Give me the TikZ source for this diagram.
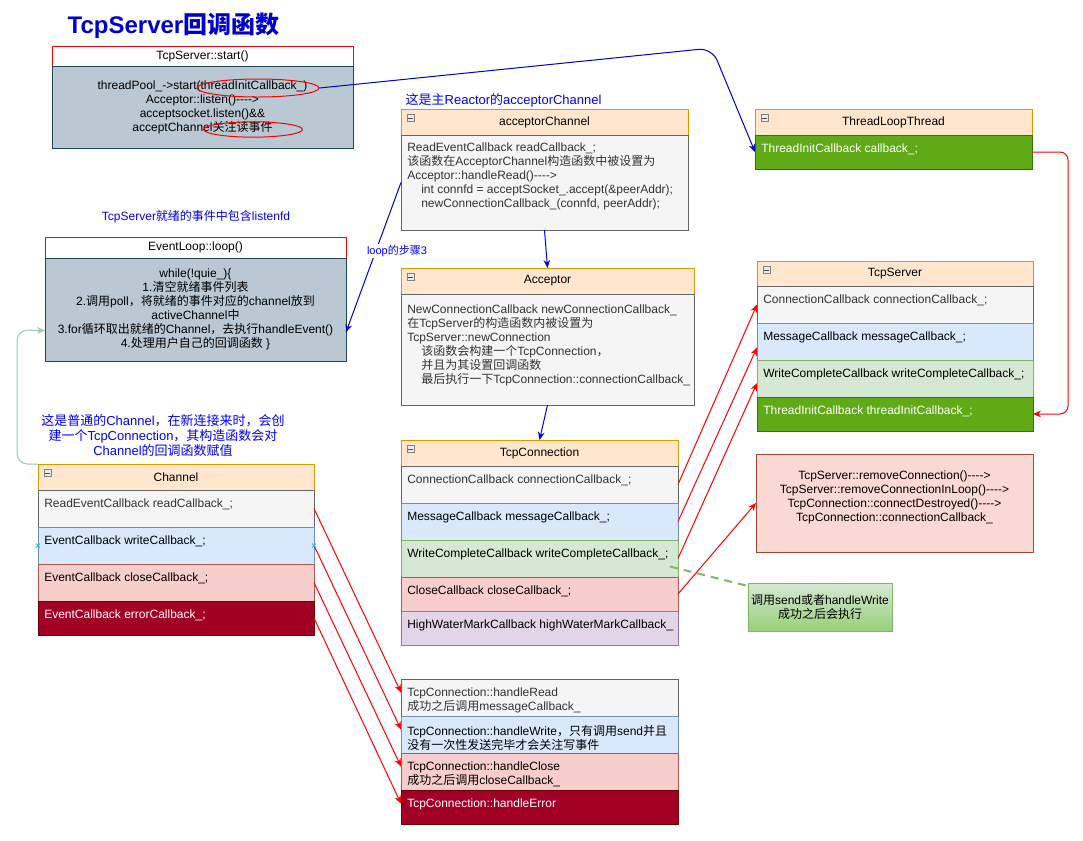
\documentclass[tikz,border=0pt]{standalone}
\usepackage{fontspec}
\usepackage{xcolor}
\usepackage{tikz}
\setmainfont{Liberation Sans}
\newfontfamily\latinfont{Liberation Sans}
\newfontfamily\cjkfont{Noto Sans CJK SC}
\usetikzlibrary{positioning,calc,arrows.meta,shapes.geometric}

% Han characters and full-width punctuation go to the CJK font
\XeTeXinterchartokenstate=1
\newXeTeXintercharclass\hanclass
\newcount\hancode
\hancode="3000
\loop\XeTeXcharclass\hancode=\hanclass
  \ifnum\hancode<"303F \advance\hancode by 1 \repeat
\hancode="4E00
\loop\XeTeXcharclass\hancode=\hanclass
  \ifnum\hancode<"9FFF \advance\hancode by 1 \repeat
\hancode="FF00
\loop\XeTeXcharclass\hancode=\hanclass
  \ifnum\hancode<"FFEF \advance\hancode by 1 \repeat
\XeTeXinterchartoks 0 \hanclass = {\cjkfont}
\XeTeXinterchartoks 4095 \hanclass = {\cjkfont}
\XeTeXinterchartoks \hanclass 0 = {\latinfont}
\XeTeXinterchartoks \hanclass 4095 = {\latinfont}

\newcommand{\arw}{-{}-{}-{}->}

\definecolor{hdrfill}{HTML}{FFE6CC}
\definecolor{hdrline}{HTML}{D79B00}
\definecolor{grayfill}{HTML}{F5F5F5}
\definecolor{grayline}{HTML}{666666}
\definecolor{graytext}{HTML}{333333}
\definecolor{bluefill}{HTML}{DAE8FC}
\definecolor{blueline}{HTML}{6C8EBF}
\definecolor{greenfill}{HTML}{D5E8D4}
\definecolor{greenline}{HTML}{82B366}
\definecolor{redfill}{HTML}{F8CECC}
\definecolor{redline}{HTML}{B85450}
\definecolor{purplefill}{HTML}{E1D5E7}
\definecolor{purpleline}{HTML}{9673A6}
\definecolor{dkgreenfill}{HTML}{60A917}
\definecolor{dkgreenline}{HTML}{2D7600}
\definecolor{dkredfill}{HTML}{A20025}
\definecolor{dkredline}{HTML}{6F0000}
\definecolor{slatefill}{HTML}{BAC8D3}
\definecolor{slateline}{HTML}{23445D}
\definecolor{rmfill}{HTML}{FAD9D5}
\definecolor{rmline}{HTML}{AE4132}
\definecolor{notebottom}{HTML}{97D077}
\definecolor{titleblue}{HTML}{0000CC}
\definecolor{lblblue}{HTML}{0000FF}
\definecolor{arrowblue}{HTML}{0000CC}
\definecolor{tealline}{HTML}{9AC7BF}
\definecolor{hoverx}{HTML}{29B6F2}

\tikzset{
  every node/.style={font=\fontsize{9}{10.5}\selectfont},
  box/.style={rectangle, draw, line width=0.75pt, inner sep=0pt, outer sep=0pt},
  hdr/.style={box, draw=hdrline, fill=hdrfill, minimum height=19.5pt},
  hdrred/.style={box, draw=red, fill=white, minimum height=15pt},
  slate/.style={box, draw=slateline, fill=slatefill, align=center},
  rowgray/.style={box, draw=grayline, fill=grayfill, minimum height=27.75pt},
  rowblue/.style={box, draw=blueline, fill=bluefill, minimum height=27.75pt},
  rowgreen/.style={box, draw=greenline, fill=greenfill, minimum height=27.75pt},
  rowred/.style={box, draw=redline, fill=redfill, minimum height=27.75pt},
  rowpurple/.style={box, draw=purpleline, fill=purplefill, minimum height=25.5pt},
  rowdkgreen/.style={box, draw=dkgreenline, fill=dkgreenfill, minimum height=25.5pt},
  rowdkred/.style={box, draw=dkredline, fill=dkredfill, minimum height=25.5pt},
  rowtext/.style={anchor=north west, align=left, inner sep=0pt, xshift=4.5pt, yshift=-6.6pt,
    minimum width=0pt, minimum height=0pt},
  fold/.style={rectangle, draw=gray, fill=gray!15, line width=0.4pt, inner sep=0pt, minimum size=5.25pt,
    path picture={\draw[line width=0.6pt, black!70] ([xshift=1.1pt]path picture bounding box.west)
      -- ([xshift=-1.1pt]path picture bounding box.east);}},
  lbl/.style={text=lblblue},
  ring/.style={ellipse, draw=red, line width=0.75pt, inner sep=0pt},
  bluearrow/.style={draw=arrowblue, line width=0.75pt, -{Stealth[length=6pt, width=5pt]}},
  redarrow/.style={draw=red, line width=0.75pt, -{Stealth[length=6pt, width=5pt]}},
  tealarrow/.style={draw=tealline, line width=0.75pt, -{Stealth[length=6pt, width=5pt]}},
  notedash/.style={draw=greenline, line width=1.5pt, dash pattern=on 6pt off 4.5pt},
  xmark/.style={draw=hoverx, line width=0.75pt}
}

\begin{document}
\begin{tikzpicture}[x=0.75pt, y=-0.75pt]
  \useasboundingbox (0,0) rectangle (1083,840);

  % Title
  \node[anchor=west, font=\fontsize{18}{20}\selectfont\bfseries, text=titleblue] (title) at (63,26) {TcpServer回调函数};

  % TcpServer::start()
  \begin{scope}[minimum width=225.75pt]
    \node[hdrred, anchor=north west] (sth) at (52,46) {TcpServer::start()};
    \node[slate, below=0pt of sth, minimum height=61.5pt] (stb) {threadPool\_->start(threadInitCallback\_)\\Acceptor::listen()\arw\\acceptsocket.listen()\&\&\\acceptChannel关注读事件};
  \end{scope}
  \node[ring, minimum width=91.5pt, minimum height=13.5pt] (e1) at (258,88) {};
  \node[ring, minimum width=74pt, minimum height=11.5pt] (e2) at (253,129.5) {};

  % ThreadLoopThread
  \begin{scope}[minimum width=207.75pt]
    \node[hdr, anchor=north west] (tlth) at (755,109) {ThreadLoopThread};
    \node[rowdkgreen, below=0pt of tlth] (tlt1) {};
    \node[rowtext, text=white] (tlt1t) at (tlt1.north west) {ThreadInitCallback callback\_;};
  \end{scope}

  % acceptorChannel
  \node[lbl, anchor=west, font=\fontsize{9.75}{11.25}\selectfont] (aclbl) at (401,100) {这是主Reactor的acceptorChannel};
  \begin{scope}[minimum width=215.25pt]
    \node[hdr, anchor=north west] (ach) at (401,109) {acceptorChannel};
    \node[rowgray, below=0pt of ach, minimum height=71.25pt] (acb) {};
    \node[rowtext, text=graytext, yshift=1pt] (acbt) at (acb.north west) {ReadEventCallback readCallback\_;\\该函数在AcceptorChannel构造函数中被设置为\\Acceptor::handleRead()\arw\\\hspace*{10.5pt}int connfd = acceptSocket\_.accept(\&peerAddr);\\\hspace*{10.5pt}newConnectionCallback\_(connfd, peerAddr);};
  \end{scope}

  % Acceptor
  \begin{scope}[minimum width=219.75pt]
    \node[hdr, anchor=north west] (acph) at (401,268) {Acceptor};
    \node[rowgray, below=0pt of acph, minimum height=83.25pt] (acpb) {};
    \node[rowtext, text=graytext, yshift=-1.5pt] (acpbt) at (acpb.north west) {NewConnectionCallback newConnectionCallback\_\\在TcpServer的构造函数内被设置为\\TcpServer::newConnection\\\hspace*{10.5pt}该函数会构建一个TcpConnection，\\\hspace*{10.5pt}并且为其设置回调函数\\\hspace*{10.5pt}最后执行一下TcpConnection::connectionCallback\_};
  \end{scope}

  % TcpServer
  \begin{scope}[minimum width=207pt]
    \node[hdr, anchor=north west, minimum height=18.75pt] (tsh) at (757,261) {TcpServer};
    \node[rowgray, below=0pt of tsh] (ts1) {};
    \node[rowblue, below=0pt of ts1] (ts2) {};
    \node[rowgreen, below=0pt of ts2] (ts3) {};
    \node[rowdkgreen, below=0pt of ts3] (ts4) {};
    \node[rowtext, text=graytext] (ts1t) at (ts1.north west) {ConnectionCallback connectionCallback\_;};
    \node[rowtext] (ts2t) at (ts2.north west) {MessageCallback messageCallback\_;};
    \node[rowtext] (ts3t) at (ts3.north west) {WriteCompleteCallback writeCompleteCallback\_;};
    \node[rowtext, text=white] (ts4t) at (ts4.north west) {ThreadInitCallback threadInitCallback\_;};
  \end{scope}

  % EventLoop::loop()
  \node[lbl] (evlbl) at (196,217) {TcpServer就绪的事件中包含listenfd};
  \begin{scope}[minimum width=225.75pt]
    \node[hdrred, anchor=north west, minimum height=15.75pt] (evh) at (45,237) {EventLoop::loop()};
    \node[slate, below=0pt of evh, minimum height=77.25pt] (evb) {while(!quie\_)\{\\1.清空就绪事件列表\\2.调用poll，将就绪的事件对应的channel放到\\activeChannel中\\3.for循环取出就绪的Channel，去执行handleEvent()\\4.处理用户自己的回调函数 \}};
  \end{scope}

  % Channel
  \node[lbl, align=center, font=\fontsize{9.75}{11.25}\selectfont] (chlbl) at (163,436) {这是普通的Channel，在新连接来时，会创\\建一个TcpConnection，其构造函数会对\\Channel的回调函数赋值};
  \begin{scope}[minimum width=207pt]
    \node[hdr, anchor=north west] (chh) at (38,464) {Channel};
    \node[rowgray, below=0pt of chh] (ch1) {};
    \node[rowblue, below=0pt of ch1] (ch2) {};
    \node[rowred, below=0pt of ch2] (ch3) {};
    \node[rowdkred, below=0pt of ch3] (ch4) {};
    \node[rowtext, text=graytext] (ch1t) at (ch1.north west) {ReadEventCallback readCallback\_;};
    \node[rowtext] (ch2t) at (ch2.north west) {EventCallback writeCallback\_;};
    \node[rowtext] (ch3t) at (ch3.north west) {EventCallback closeCallback\_;};
    \node[rowtext, text=white] (ch4t) at (ch4.north west) {EventCallback errorCallback\_;};
  \end{scope}

  % TcpConnection
  \begin{scope}[minimum width=207.75pt]
    \node[hdr, anchor=north west] (tch) at (401,440) {TcpConnection};
    \node[rowgray, below=0pt of tch] (tc1) {};
    \node[rowblue, below=0pt of tc1] (tc2) {};
    \node[rowgreen, below=0pt of tc2] (tc3) {};
    \node[rowred, below=0pt of tc3, minimum height=25.5pt] (tc4) {};
    \node[rowpurple, below=0pt of tc4] (tc5) {};
    \node[rowtext, text=graytext] (tc1t) at (tc1.north west) {ConnectionCallback connectionCallback\_;};
    \node[rowtext] (tc2t) at (tc2.north west) {MessageCallback messageCallback\_;};
    \node[rowtext] (tc3t) at (tc3.north west) {WriteCompleteCallback writeCompleteCallback\_;};
    \node[rowtext] (tc4t) at (tc4.north west) {CloseCallback closeCallback\_;};
    \node[rowtext] (tc5t) at (tc5.north west) {HighWaterMarkCallback highWaterMarkCallback\_};
  \end{scope}

  % TcpConnection handlers
  \begin{scope}[minimum width=207.75pt]
    \node[rowgray, anchor=north west] (h1) at (401,679) {};
    \node[rowblue, below=0pt of h1] (h2) {};
    \node[rowred, below=0pt of h2] (h3) {};
    \node[rowdkred, below=0pt of h3] (h4) {};
    \node[rowtext, text=graytext] (h1t) at (h1.north west) {TcpConnection::handleRead\\成功之后调用messageCallback\_};
    \node[rowtext] (h2t) at (h2.north west) {TcpConnection::handleWrite，只有调用send并且\\没有一次性发送完毕才会关注写事件};
    \node[rowtext] (h3t) at (h3.north west) {TcpConnection::handleClose\\成功之后调用closeCallback\_};
    \node[rowtext, text=white] (h4t) at (h4.north west) {TcpConnection::handleError};
  \end{scope}

  % removeConnection chain
  \node[box, draw=rmline, fill=rmfill, minimum width=207.75pt, minimum height=73.5pt, anchor=north west] (rm) at (756,454) {};
  \node[align=center, inner sep=0pt] (rmt) at ($(rm.center)+(0,-6)$) {TcpServer::removeConnection()\arw\\TcpServer::removeConnectionInLoop()\arw\\TcpConnection::connectDestroyed()\arw\\TcpConnection::connectionCallback\_};

  % Note
  \node[box, draw=greenline, top color=greenfill, bottom color=notebottom, minimum width=108pt, minimum height=36pt, anchor=north west, align=center] (note) at (748,583) {调用send或者handleWrite\\成功之后会执行};

  % Fold icons
  \node[fold] (tlthf) at ($(tlth.north west)+(9.5,9)$) {};
  \node[fold] (achf) at ($(ach.north west)+(9.5,9)$) {};
  \node[fold] (acphf) at ($(acph.north west)+(9.5,9)$) {};
  \node[fold] (tshf) at ($(tsh.north west)+(9.5,9)$) {};
  \node[fold] (chhf) at ($(chh.north west)+(9.5,9)$) {};
  \node[fold] (tchf) at ($(tch.north west)+(9.5,9)$) {};

  % Blue connectors
  \coordinate (bend1) at (712,48);
  \draw[bluearrow, rounded corners=10pt] (e1.east) -- (bend1) -- (tlt1.west);
  \draw[bluearrow] (acb.south) -- (acph.north);
  \draw[bluearrow] (acpb.south) -- (tch.north);
  \draw[bluearrow] (acb.west) -- ([yshift=-17pt]evb.east);
  \node[lbl, fill=white, inner sep=1pt, font=\fontsize{8.25}{9}\selectfont] (looplbl) at (397,251) {loop的步骤3};

  % Red connectors
  \draw[redarrow, rounded corners=6pt] (tlt1.east) -- ++(36,0) |- (ts4.east);
  \draw[redarrow] (tc1.east) -- (ts1.west);
  \draw[redarrow] (tc2.east) -- ([yshift=-4.5pt]ts2.west);
  \draw[redarrow] (tc3.east) -- ([yshift=-3.4pt]ts3.west);
  \draw[redarrow] (tc4.east) -- (rm.west);
  \draw[redarrow] (ch1.east) -- ([yshift=3.75pt]h1.west);
  \draw[redarrow] (ch2.east) -- ([yshift=3.75pt]h2.west);
  \draw[redarrow] (ch3.east) -- ([yshift=3.75pt]h3.west);
  \draw[redarrow] (ch4.east) -- ([yshift=2.5pt]h4.west);

  % Channel back to the loop
  \draw[tealarrow, rounded corners=8pt] (chh.north west) -- (17,464) -- (17,330) -- ([yshift=-15.75pt]evb.west);

  % Note link
  \draw[notedash] ($(tc3.east)+(-8,8)$) -- ($(note.north west)+(0,3)$);

  % Hover marks on writeCallback_
  \draw[xmark] ($(ch2.west)+(-2,-2)$) -- ($(ch2.west)+(2,2)$) ($(ch2.west)+(-2,2)$) -- ($(ch2.west)+(2,-2)$);
  \draw[xmark] ($(ch2.east)+(-2,-2)$) -- ($(ch2.east)+(2,2)$) ($(ch2.east)+(-2,2)$) -- ($(ch2.east)+(2,-2)$);
\end{tikzpicture}
\end{document}
